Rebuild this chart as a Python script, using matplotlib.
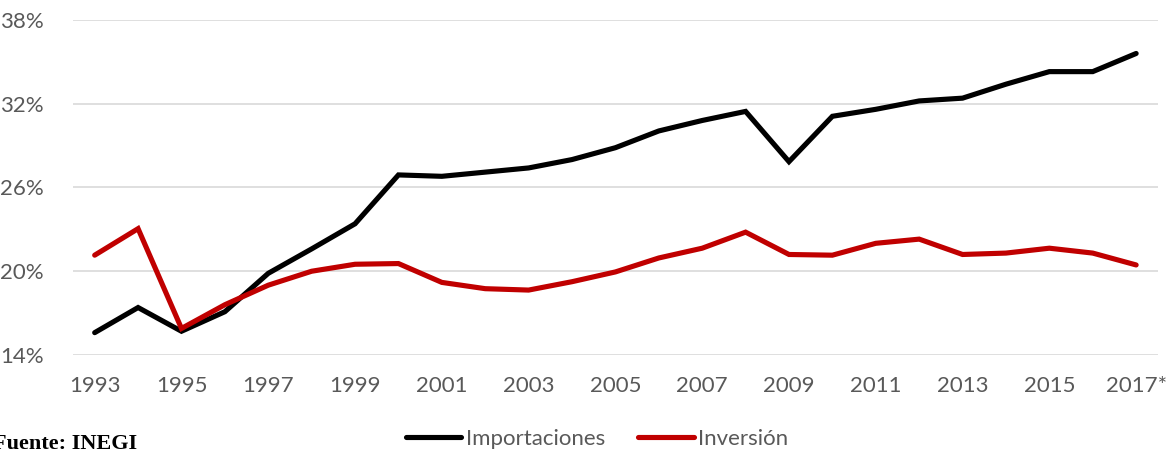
import matplotlib
matplotlib.use("Agg")
import matplotlib.pyplot as plt
from matplotlib.ticker import FuncFormatter

years = ["1993", "1994", "1995", "1996", "1997", "1998", "1999", "2000", "2001",
         "2002", "2003", "2004", "2005", "2006", "2007", "2008", "2009", "2010",
         "2011", "2012", "2013", "2014", "2015", "2016", "2017*"]

importaciones = [15.6, 17.4, 15.7, 17.1, 19.85, 21.6, 23.4, 26.9, 26.8,
                 27.1, 27.4, 28.0, 28.85, 30.05, 30.8, 31.45, 27.85, 31.1,
                 31.6, 32.2, 32.4, 33.4, 34.3, 34.3, 35.6]

inversion = [21.15, 23.05, 15.9, 17.6, 19.0, 20.0, 20.5, 20.55, 19.2,
             18.75, 18.65, 19.25, 19.95, 20.95, 21.65, 22.8, 21.2, 21.15,
             22.0, 22.3, 21.2, 21.3, 21.65, 21.3, 20.45]

y_ticks = [14, 20, 26, 32, 38]

plt.rcParams["font.family"] = ["Lato", "DejaVu Sans"]

fig = plt.figure(figsize=(11.66, 4.51), dpi=100)
ax = fig.add_axes([0.0626, 0.2129, 0.9304, 0.7428])

x = list(range(len(years)))
ax.plot(x, importaciones, color="#000000", lw=3.7, solid_joinstyle="miter",
        solid_capstyle="round", label="Importaciones", zorder=3)
ax.plot(x, inversion, color="#c00000", lw=3.7, solid_joinstyle="miter",
        solid_capstyle="round", label="Inversión", zorder=3)

ax.set_xlim(-0.5, len(years) - 0.5)
ax.set_ylim(14, 38)
ax.set_yticks(y_ticks)
ax.yaxis.set_major_formatter(FuncFormatter(lambda v, p: f"{v:.0f}%"))
ax.set_xticks(x[::2])
ax.set_xticklabels(years[::2])

ax.grid(axis="y", color="#d9d9d9", lw=1.2, zorder=0)
for s in ax.spines.values():
    s.set_visible(False)
ax.tick_params(axis="both", length=0, labelsize=16, labelcolor="#595959")
ax.tick_params(axis="y", pad=21)
ax.tick_params(axis="x", pad=15)

leg = fig.legend(loc="center", bbox_to_anchor=(0.512, 0.027), ncol=2, frameon=False,
                 fontsize=16, handlelength=2.5, handletextpad=0.2,
                 columnspacing=1.5)
for t in leg.get_texts():
    t.set_color("#595959")

fig.text(-0.006, (451 - 434) / 451, "Fuente: INEGI", family="Liberation Serif",
         fontweight="bold", fontsize=16, va="top", ha="left", color="#000000")

fig.savefig("out.png", dpi=100, facecolor="white")
